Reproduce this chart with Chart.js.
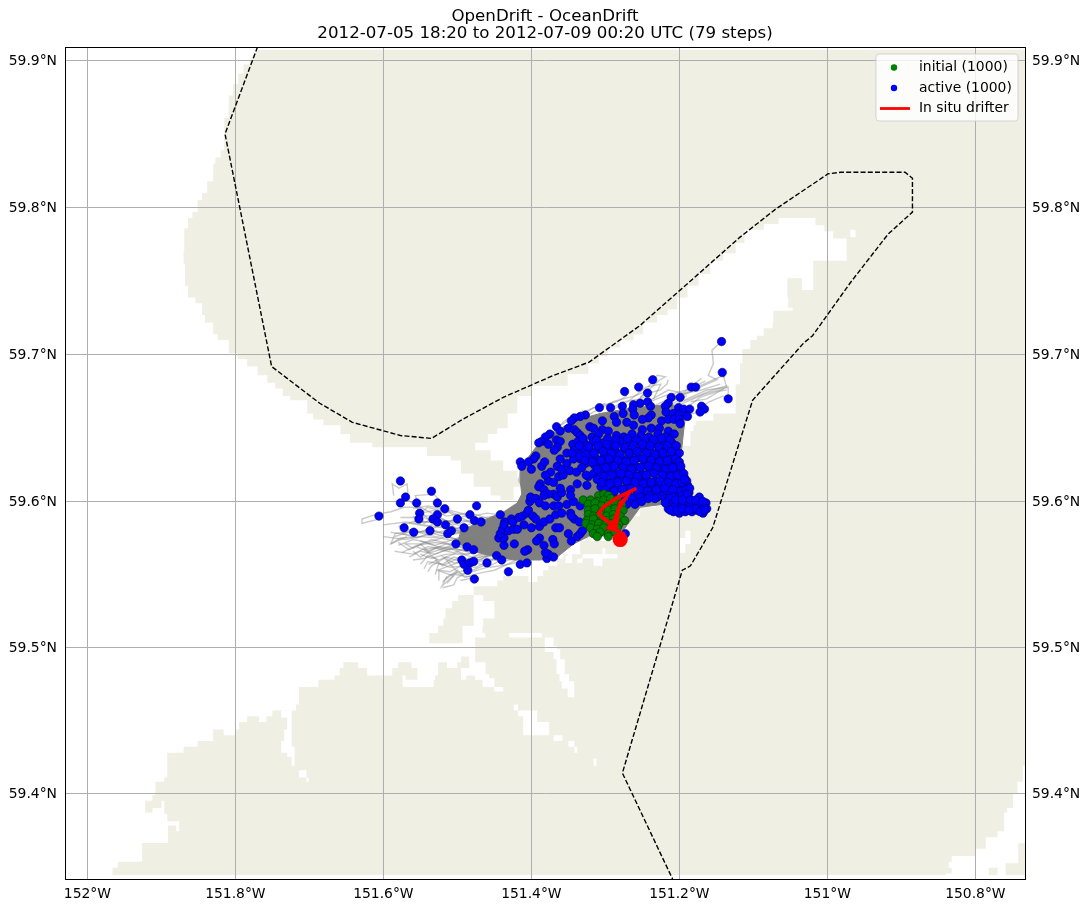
<!DOCTYPE html>
<html>
<head>
<meta charset="utf-8">
<title>OpenDrift - OceanDrift</title>
<script src="https://cdn.jsdelivr.net/npm/chart.js@4/dist/chart.umd.min.js"></script>
<style>
html,body{margin:0;padding:0;background:#fff}
canvas{display:block}
</style>
</head>
<body>
<canvas id="map" width="1090" height="910"></canvas>
<script>
const titleLines=["OpenDrift - OceanDrift","2012-07-05 18:20 to 2012-07-09 00:20 UTC (79 steps)"]

const lonTicks=[-152,-151.8,-151.6,-151.4,-151.2,-151,-150.8]
const lonLabels=["152°W","151.8°W","151.6°W","151.4°W","151.2°W","151°W","150.8°W"]
const latTicks=[59.4,59.5,59.6,59.7,59.8,59.9]
const latLabels=["59.4°N","59.5°N","59.6°N","59.7°N","59.8°N","59.9°N"]

/* all positions below are [lon,lat] */

const landCoast=[
[-151.770,59.907],[-150.732,59.907],[-150.732,59.419],[-150.736,59.419],[-150.736,59.408],[-150.742,59.408],[-150.743,59.400],[-150.749,59.395],[-150.749,59.390],[-150.754,59.390],[-150.757,59.387],[-150.761,59.382],[-150.761,59.374],[-150.770,59.374],[-150.770,59.370],[-150.782,59.370],[-150.786,59.366],[-150.786,59.362],[-150.796,59.362],[-150.800,59.357],[-150.832,59.357],[-150.832,59.353],[-150.836,59.353],[-150.836,59.349],[-150.832,59.349],[-150.832,59.345],[-150.840,59.345],[-150.840,59.344],
[-151.966,59.344],[-151.966,59.349],[-151.959,59.349],[-151.959,59.353],[-151.930,59.353],[-151.926,59.357],[-151.926,59.366],[-151.891,59.366],[-151.891,59.378],[-151.880,59.378],[-151.880,59.374],[-151.876,59.374],[-151.876,59.381],[-151.892,59.381],[-151.892,59.386],[-151.896,59.387],[-151.896,59.395],[-151.900,59.395],[-151.900,59.390],[-151.912,59.390],[-151.912,59.387],[-151.922,59.387],[-151.922,59.395],[-151.912,59.395],[-151.912,59.399],[-151.908,59.399],[-151.908,59.408],[-151.896,59.408],[-151.896,59.411],[-151.892,59.411],[-151.892,59.428],[-151.870,59.428],[-151.870,59.432],[-151.851,59.432],[-151.851,59.436],[-151.832,59.436],[-151.830,59.440],[-151.830,59.444],[-151.816,59.444],[-151.816,59.440],[-151.799,59.440],[-151.799,59.444],[-151.795,59.449],[-151.784,59.449],[-151.784,59.453],[-151.768,59.453],[-151.768,59.449],[-151.758,59.449],[-151.758,59.453],[-151.750,59.453],[-151.750,59.457],[-151.718,59.457],[-151.718,59.461],[-151.714,59.461],[-151.714,59.473],[-151.688,59.473],[-151.688,59.478],[-151.666,59.478],[-151.666,59.481],[-151.659,59.481],[-151.659,59.486],[-151.654,59.486],[-151.654,59.490],[-151.634,59.490],[-151.634,59.486],[-151.622,59.486],[-151.622,59.481],[-151.588,59.481],[-151.588,59.486],[-151.580,59.486],[-151.580,59.490],[-151.562,59.490],[-151.562,59.486],[-151.554,59.486],[-151.554,59.478],[-151.570,59.478],[-151.570,59.481],[-151.574,59.481],[-151.574,59.473],[-151.532,59.473],[-151.532,59.478],[-151.530,59.481],[-151.526,59.481],[-151.526,59.490],[-151.514,59.490],[-151.514,59.486],[-151.500,59.486],[-151.500,59.490],[-151.495,59.490],[-151.495,59.494],[-151.484,59.494],[-151.484,59.486],[-151.495,59.486],[-151.495,59.478],[-151.488,59.478],[-151.488,59.481],[-151.476,59.481],[-151.476,59.478],[-151.466,59.478],[-151.466,59.473],[-151.450,59.473],[-151.450,59.470],[-151.438,59.470],[-151.438,59.473],[-151.450,59.479],[-151.457,59.482],[-151.462,59.482],[-151.462,59.490],[-151.476,59.495],
[-151.476,59.507],[-151.462,59.507],[-151.462,59.510],[-151.466,59.510],[-151.466,59.515],[-151.465,59.520],[-151.450,59.520],[-151.450,59.532],[-151.465,59.536],[-151.478,59.536],[-151.478,59.515],[-151.493,59.515],[-151.493,59.503],[-151.538,59.503],[-151.538,59.510],[-151.526,59.510],[-151.526,59.515],[-151.519,59.515],[-151.519,59.520],[-151.516,59.527],[-151.507,59.532],[-151.499,59.536],[-151.478,59.536],[-151.478,59.542],[-151.465,59.542],[-151.453,59.539],[-151.453,59.542],[-151.446,59.542],[-151.446,59.546],[-151.438,59.546],[-151.438,59.549],[-151.404,59.549],[-151.404,59.545],[-151.392,59.545],[-151.392,59.549],[-151.384,59.549],[-151.384,59.553],[-151.377,59.553],[-151.377,59.556],[-151.365,59.561],[-151.357,59.564],[-151.334,59.573],[-151.327,59.577],
[-151.320,59.573],[-151.307,59.573],[-151.291,59.573],[-151.273,59.580],[-151.269,59.590],[-151.253,59.596],[-151.232,59.597],[-151.215,59.599],[-151.204,59.604],[-151.199,59.621],[-151.196,59.638],[-151.185,59.648],[-151.181,59.652],[-151.178,59.655],[-151.154,59.656],[-151.154,59.660],[-151.124,59.672],[-151.124,59.680],[-151.118,59.694],[-151.115,59.704],[-151.104,59.710],[-151.095,59.713],[-151.086,59.718],[-151.074,59.722],[-151.073,59.730],[-151.042,59.727],[-151.047,59.732],[-151.053,59.739],[-151.054,59.752],[-151.042,59.752],[-151.034,59.744],[-151.019,59.748],[-151.019,59.764],[-150.995,59.764],[-150.974,59.769],[-150.974,59.779],[-150.992,59.784],[-151.004,59.788],[-151.016,59.793],[-151.046,59.793],[-151.066,59.789],[-151.086,59.785],[-151.112,59.776],[-151.124,59.769],[-151.141,59.764],[-151.158,59.755],[-151.174,59.747],[-151.189,59.739],[-151.203,59.731],[-151.216,59.727],[-151.230,59.722],[-151.249,59.714],[-151.262,59.710],[-151.280,59.705],[-151.297,59.699],[-151.309,59.694],[-151.323,59.687],[-151.351,59.679],[-151.399,59.672],[-151.419,59.660],[-151.432,59.650],[-151.446,59.646],[-151.459,59.640],[-151.476,59.635],[-151.455,59.628],[-151.438,59.621],[-151.419,59.616],[-151.415,59.610],[-151.424,59.601],[-151.442,59.604],[-151.455,59.610],[-151.478,59.619],[-151.495,59.628],[-151.509,59.631],[-151.541,59.637],[-151.573,59.637],[-151.615,59.640],[-151.645,59.646],[-151.658,59.652],[-151.665,59.652],[-151.681,59.656],[-151.695,59.660],[-151.703,59.669],[-151.726,59.672],[-151.736,59.677],[-151.746,59.681],[-151.757,59.686],[-151.770,59.692],[-151.784,59.697],[-151.797,59.701],[-151.809,59.710],[-151.824,59.714],[-151.830,59.722],[-151.841,59.727],[-151.845,59.735],[-151.854,59.739],[-151.864,59.747],[-151.868,59.762],[-151.870,59.771],[-151.869,59.786],[-151.864,59.793],[-151.858,59.797],[-151.851,59.805],[-151.845,59.810],[-151.838,59.818],[-151.830,59.830],[-151.827,59.834],[-151.820,59.839],[-151.815,59.861],[-151.809,59.876],[-151.803,59.884],[-151.796,59.891],[-151.789,59.897],[-151.781,59.899]
]

const waterInlet=[[-151.738,59.457],[-151.724,59.457],[-151.724,59.432],[-151.720,59.432],[-151.720,59.419],[-151.724,59.419],[-151.724,59.425],[-151.730,59.425],[-151.730,59.428],[-151.738,59.428],[-151.738,59.436],[-151.734,59.437],[-151.734,59.444],[-151.730,59.449],[-151.730,59.452],[-151.735,59.452],[-151.738,59.456]]
const waterPond=[[-151.714,59.416],[-151.704,59.416],[-151.704,59.411],[-151.701,59.411],[-151.701,59.408],[-151.704,59.408],[-151.704,59.411],[-151.714,59.411]]
const waterChannel=[[-151.424,59.461],[-151.418,59.461],[-151.418,59.457],[-151.392,59.457],[-151.392,59.449],[-151.376,59.449],[-151.376,59.440],[-151.411,59.440],[-151.411,59.453],[-151.418,59.453],[-151.418,59.457],[-151.424,59.457]]
const waterSpotA=[[-151.370,59.440],[-151.358,59.440],[-151.358,59.436],[-151.370,59.436]]
const waterSpotB=[[-151.350,59.436],[-151.342,59.436],[-151.342,59.432],[-151.338,59.432],[-151.338,59.428],[-151.342,59.428],[-151.342,59.432],[-151.350,59.432]]
const waterBar=[[-151.430,59.510],[-151.386,59.510],[-151.386,59.507],[-151.430,59.507]]
const waterCreek=[[-151.382,59.507],[-151.370,59.507],[-151.370,59.501],[-151.365,59.499],[-151.361,59.492],[-151.355,59.482],[-151.349,59.477],[-151.342,59.466],[-151.350,59.466],[-151.351,59.472],[-151.359,59.477],[-151.362,59.482],[-151.366,59.492],[-151.370,59.497],[-151.382,59.501]]
const waterSpotC=[[-151.354,59.558],[-151.354,59.563],[-151.350,59.563],[-151.350,59.565],[-151.345,59.565],[-151.345,59.558]]
const waterLagoon=[[-151.338,59.558],[-151.338,59.561],[-151.331,59.561],[-151.331,59.564],[-151.304,59.564],[-151.304,59.568],[-151.300,59.568],[-151.300,59.564],[-151.284,59.564],[-151.284,59.561],[-151.304,59.561],[-151.304,59.556],[-151.316,59.556],[-151.316,59.561],[-151.331,59.561],[-151.331,59.558]]
const waterSpotD=[[-151.192,59.580],[-151.185,59.580],[-151.185,59.571],[-151.192,59.571],[-151.192,59.565],[-151.199,59.565],[-151.199,59.575],[-151.192,59.575]]
const waterSpotE=[[-151.316,59.424],[-151.312,59.424],[-151.312,59.419],[-151.316,59.419]]
const waterSpotF=[[-150.969,59.785],[-150.962,59.785],[-150.962,59.780],[-150.969,59.780]]
const waterShapes=[waterInlet,waterPond,waterChannel,waterSpotA,waterSpotB,waterBar,waterCreek,waterSpotC,waterLagoon,waterSpotD,waterSpotE,waterSpotF]

const shoalA=[[-150.782,59.349],[-150.770,59.349],[-150.770,59.344],[-150.782,59.344]]
const shoalB=[[-150.759,59.344],[-150.759,59.352],[-150.742,59.352],[-150.742,59.366],[-150.732,59.366],[-150.732,59.344]]

const boundary=[
[-151.770,59.909],[-151.814,59.850],[-151.751,59.692],[-151.686,59.667],[-151.642,59.654],[-151.577,59.645],[-151.535,59.643],[-151.493,59.656],[-151.438,59.671],[-151.370,59.686],[-151.322,59.695],[-151.253,59.720],[-151.199,59.744],[-151.181,59.752],[-151.118,59.780],[-151.070,59.799],[-150.999,59.823],[-150.982,59.824],[-150.895,59.824],[-150.885,59.820],[-150.885,59.797],[-150.918,59.782],[-150.969,59.749],[-151.020,59.713],[-151.032,59.708],[-151.101,59.669],[-151.155,59.582],[-151.185,59.556],[-151.196,59.553],[-151.277,59.414],[-151.209,59.341]
]

/* the solid grey mass where the tracks pile up */
const trackMass=[
[-151.323,59.576],[-151.343,59.571],[-151.365,59.562],[-151.388,59.560],[-151.424,59.560],[-151.455,59.563],[-151.480,59.566],[-151.500,59.572],[-151.495,59.580],[-151.470,59.586],[-151.437,59.593],[-151.419,59.599],[-151.413,59.605],[-151.415,59.614],[-151.415,59.621],[-151.406,59.629],[-151.392,59.638],[-151.370,59.647],[-151.343,59.655],[-151.307,59.660],[-151.262,59.664],[-151.217,59.666],[-151.190,59.664],[-151.194,59.649],[-151.199,59.626],[-151.192,59.610],[-151.208,59.599],[-151.253,59.596],[-151.276,59.580],[-151.298,59.576]
]

const trackA=[[-151.460,59.578],[-151.496,59.580],[-151.523,59.589],[-151.550,59.596],[-151.572,59.596],[-151.590,59.593],[-151.611,59.591],[-151.629,59.588],[-151.629,59.585],[-151.606,59.588]]
const trackB=[[-151.460,59.576],[-151.491,59.577],[-151.519,59.583],[-151.545,59.589],[-151.557,59.604],[-151.532,59.605],[-151.524,59.601]]
const trackC=[[-151.460,59.574],[-151.500,59.574],[-151.532,59.578],[-151.559,59.580],[-151.584,59.578],[-151.590,59.571],[-151.568,59.576]]
const trackD=[[-151.455,59.569],[-151.487,59.566],[-151.523,59.569],[-151.545,59.567],[-151.527,59.560],[-151.539,59.557]]
const trackE=[[-151.442,59.565],[-151.478,59.559],[-151.505,59.558],[-151.519,59.562],[-151.500,59.552],[-151.521,59.542],[-151.514,59.549]]
const trackF=[[-151.433,59.562],[-151.460,59.555],[-151.487,59.551],[-151.503,59.550],[-151.476,59.548],[-151.496,59.546]]
const trackG=[[-151.464,59.580],[-151.500,59.584],[-151.537,59.587],[-151.566,59.601],[-151.568,59.612],[-151.579,59.609],[-151.588,59.612],[-151.586,59.604]]
const trackH=[[-151.447,59.567],[-151.482,59.565],[-151.510,59.569],[-151.537,59.565],[-151.550,59.571],[-151.572,59.571]]
const trackI=[[-151.451,59.571],[-151.487,59.571],[-151.523,59.575],[-151.550,59.576],[-151.577,59.575],[-151.590,59.571]]
const trackJ=[[-151.469,59.583],[-151.496,59.589],[-151.514,59.593],[-151.541,59.596],[-151.554,59.589],[-151.577,59.589]]
const trackK=[[-151.433,59.565],[-151.469,59.562],[-151.500,59.558],[-151.527,59.553],[-151.505,59.549],[-151.514,59.544]]
const trackL=[[-151.442,59.576],[-151.478,59.580],[-151.505,59.587],[-151.532,59.586],[-151.559,59.586]]
const trackM=[[-151.410,59.608],[-151.417,59.614],[-151.415,59.621],[-151.404,59.630],[-151.392,59.638]]
const trackN=[[-151.253,59.671],[-151.226,59.683],[-151.219,59.685],[-151.230,59.686],[-151.242,59.678]]
const trackO=[[-151.208,59.669],[-151.172,59.678],[-151.149,59.683],[-151.161,59.686],[-151.154,59.694],[-151.156,59.703],[-151.143,59.709]]
const trackP=[[-151.194,59.669],[-151.163,59.676],[-151.136,59.678],[-151.142,59.688]]
const trackQ=[[-151.199,59.666],[-151.167,59.673],[-151.134,59.678],[-151.134,59.670]]
const trackR=[[-151.217,59.666],[-151.185,59.676],[-151.145,59.685],[-151.138,59.685]]
const trackS=[[-151.262,59.666],[-151.248,59.673],[-151.226,59.676],[-151.217,59.680],[-151.215,59.683]]
const trackT=[[-151.298,59.662],[-151.275,59.668],[-151.253,59.670],[-151.239,59.673]]
const trackU=[[-151.185,59.668],[-151.163,59.670],[-151.140,59.677]]
const trackV=[[-151.343,59.655],[-151.316,59.664],[-151.285,59.668],[-151.271,59.672]]
const trackW=[[-151.190,59.664],[-151.172,59.671],[-151.149,59.675],[-151.136,59.676]]

const fanA=[[-151.42,59.592],[-151.45,59.590],[-151.475,59.588],[-151.49,59.592],[-151.515,59.590],[-151.53,59.594],[-151.55,59.592]]
const fanB=[[-151.42,59.588],[-151.45,59.586],[-151.47,59.589],[-151.50,59.585],[-151.52,59.587],[-151.54,59.583],[-151.565,59.585]]
const fanC=[[-151.43,59.585],[-151.46,59.582],[-151.48,59.585],[-151.505,59.581],[-151.525,59.583],[-151.55,59.579],[-151.57,59.581]]
const fanD=[[-151.43,59.582],[-151.46,59.579],[-151.485,59.581],[-151.51,59.577],[-151.53,59.580],[-151.555,59.575],[-151.575,59.578]]
const fanE=[[-151.43,59.579],[-151.465,59.577],[-151.49,59.573],[-151.515,59.576],[-151.54,59.572],[-151.56,59.574],[-151.58,59.570]]
const fanF=[[-151.43,59.576],[-151.46,59.574],[-151.485,59.576],[-151.51,59.571],[-151.535,59.574],[-151.56,59.568],[-151.57,59.571]]
const fanG=[[-151.43,59.573],[-151.46,59.571],[-151.49,59.568],[-151.515,59.571],[-151.54,59.566],[-151.555,59.569]]
const fanH=[[-151.43,59.570],[-151.455,59.568],[-151.48,59.570],[-151.505,59.565],[-151.53,59.568],[-151.55,59.562],[-151.56,59.566]]
const fanI=[[-151.42,59.567],[-151.45,59.565],[-151.48,59.562],[-151.50,59.565],[-151.525,59.560],[-151.54,59.563],[-151.55,59.557]]
const fanJ=[[-151.41,59.565],[-151.44,59.562],[-151.47,59.564],[-151.495,59.559],[-151.515,59.562],[-151.535,59.556],[-151.54,59.552]]
const fanK=[[-151.41,59.562],[-151.44,59.559],[-151.46,59.561],[-151.485,59.556],[-151.51,59.555],[-151.525,59.558],[-151.53,59.550]]
const fanL=[[-151.40,59.561],[-151.43,59.557],[-151.455,59.555],[-151.475,59.558],[-151.495,59.552],[-151.51,59.550],[-151.52,59.545]]
const fanM=[[-151.42,59.560],[-151.45,59.553],[-151.47,59.551],[-151.49,59.548],[-151.50,59.553],[-151.515,59.547]]
const fanN=[[-151.43,59.580],[-151.47,59.583],[-151.50,59.578],[-151.53,59.576],[-151.56,59.580],[-151.585,59.576]]
const fanO=[[-151.43,59.590],[-151.46,59.592],[-151.48,59.590],[-151.51,59.594],[-151.52,59.591],[-151.545,59.590]]
const fanP=[[-151.44,59.586],[-151.47,59.584],[-151.50,59.588],[-151.525,59.585],[-151.555,59.587],[-151.58,59.583]]
const fanQ=[[-151.42,59.574],[-151.47,59.575],[-151.50,59.570],[-151.53,59.572],[-151.555,59.570],[-151.575,59.565]]
const fanR=[[-151.42,59.571],[-151.46,59.566],[-151.49,59.570],[-151.52,59.566],[-151.545,59.561],[-151.56,59.560]]
const fanS=[[-151.42,59.577],[-151.47,59.572],[-151.50,59.575],[-151.53,59.570],[-151.55,59.573]]
const fanT=[[-151.44,59.568],[-151.47,59.560],[-151.50,59.561],[-151.52,59.556],[-151.53,59.560]]
const fanU=[[-151.44,59.590],[-151.47,59.586],[-151.49,59.590],[-151.51,59.586],[-151.53,59.590],[-151.545,59.585],[-151.56,59.590]]
const fanV=[[-151.44,59.583],[-151.47,59.580],[-151.49,59.583],[-151.52,59.578],[-151.54,59.581],[-151.565,59.577],[-151.59,59.579]]
const fanW=[[-151.44,59.577],[-151.47,59.569],[-151.495,59.572],[-151.52,59.568],[-151.545,59.572],[-151.565,59.567],[-151.58,59.572]]
const fanX=[[-151.44,59.574],[-151.465,59.566],[-151.49,59.564],[-151.51,59.568],[-151.53,59.564],[-151.55,59.566],[-151.565,59.562]]
const fanY=[[-151.44,59.571],[-151.46,59.563],[-151.485,59.560],[-151.505,59.562],[-151.52,59.557],[-151.54,59.559],[-151.545,59.554]]
const fanZ=[[-151.43,59.568],[-151.455,59.560],[-151.475,59.555],[-151.495,59.556],[-151.51,59.552],[-151.525,59.553],[-151.525,59.546]]
const fanAA=[[-151.44,59.565],[-151.46,59.557],[-151.48,59.553],[-151.50,59.548],[-151.505,59.543],[-151.52,59.541]]
const fanAB=[[-151.45,59.587],[-151.475,59.591],[-151.50,59.591],[-151.52,59.595],[-151.54,59.597],[-151.56,59.595]]
const fanAC=[[-151.45,59.575],[-151.48,59.578],[-151.51,59.581],[-151.54,59.577],[-151.57,59.574],[-151.60,59.576]]
const fanAD=[[-151.45,59.572],[-151.48,59.574],[-151.51,59.567],[-151.54,59.569],[-151.56,59.564],[-151.585,59.566]]
const fanAE=[[-151.46,59.582],[-151.49,59.579],[-151.52,59.582],[-151.545,59.584],[-151.57,59.586],[-151.60,59.584]]
const fanAF=[[-151.46,59.569],[-151.485,59.564],[-151.515,59.564],[-151.535,59.561],[-151.55,59.564]]

const northA=[[-151.40,59.625],[-151.39,59.635],[-151.375,59.645],[-151.355,59.655],[-151.33,59.662]]
const northB=[[-151.405,59.615],[-151.40,59.628],[-151.385,59.642],[-151.36,59.652],[-151.335,59.660],[-151.30,59.667]]
const northC=[[-151.35,59.650],[-151.32,59.660],[-151.29,59.668],[-151.26,59.672],[-151.24,59.676]]
const northD=[[-151.30,59.660],[-151.27,59.668],[-151.245,59.678],[-151.225,59.680],[-151.235,59.670]]
const northE=[[-151.26,59.664],[-151.22,59.672],[-151.19,59.676],[-151.165,59.682]]
const northF=[[-151.24,59.664],[-151.20,59.673],[-151.17,59.676],[-151.145,59.680]]
const northG=[[-151.22,59.664],[-151.185,59.670],[-151.155,59.676],[-151.135,59.679]]
const northH=[[-151.25,59.666],[-151.215,59.676],[-151.195,59.674],[-151.17,59.684]]
const northI=[[-151.21,59.662],[-151.18,59.660],[-151.16,59.668],[-151.14,59.672]]
const northJ=[[-151.23,59.660],[-151.205,59.668],[-151.19,59.672]]

const driftTracks=[trackA,trackB,trackC,trackD,trackE,trackF,trackG,trackH,trackI,trackJ,trackK,trackL,trackM,trackN,trackO,trackP,trackQ,trackR,trackS,trackT,trackU,trackV,trackW,
fanA,fanB,fanC,fanD,fanE,fanF,fanG,fanH,fanI,fanJ,fanK,fanL,fanM,fanN,fanO,fanP,fanQ,fanR,fanS,fanT,fanU,fanV,fanW,fanX,fanY,fanZ,fanAA,fanAB,fanAC,fanAD,fanAE,fanAF,
northA,northB,northC,northD,northE,northF,northG,northH,northI,northJ]

const activeWest=[
[-151.577,59.614],[-151.535,59.607],[-151.570,59.603],[-151.577,59.599],[-151.555,59.599],[-151.527,59.599],[-151.474,59.597],[-151.517,59.595],[-151.551,59.592],[-151.606,59.590],
[-151.552,59.588],[-151.527,59.591],[-151.533,59.588],[-151.527,59.586],[-151.500,59.588],[-151.483,59.591],[-151.477,59.587],[-151.468,59.586],[-151.516,59.584],[-151.572,59.582],
[-151.559,59.579],[-151.537,59.580],[-151.491,59.582],[-151.508,59.580],[-151.513,59.578],[-151.502,59.571],[-151.487,59.569],[-151.478,59.567],[-151.442,59.591],[-151.494,59.560],
[-151.491,59.557],[-151.483,59.558],[-151.478,59.559],[-151.486,59.553],[-151.477,59.547],[-151.460,59.558],[-151.447,59.563],[-151.440,59.560],[-151.431,59.552],[-151.415,59.557],
[-151.406,59.558],[-151.379,59.561],[-151.370,59.562],[-151.377,59.564],[-151.381,59.565],[-151.405,59.567],[-151.409,59.566],[-151.423,59.571],[-151.437,59.570],[-151.444,59.575],
[-151.437,59.575],[-151.442,59.578],[-151.439,59.581],[-151.436,59.586],[-151.437,59.584],[-151.431,59.580],[-151.424,59.581],[-151.419,59.581],[-151.410,59.584],[-151.427,59.588],
[-151.425,59.586],[-151.417,59.589],[-151.412,59.590],[-151.406,59.592],[-151.404,59.594],[-151.398,59.590],[-151.394,59.588],[-151.400,59.582],[-151.389,59.583],[-151.383,59.586],
[-151.375,59.588],[-151.367,59.591],[-151.359,59.592],[-151.347,59.592],[-151.342,59.588],[-151.335,59.586],[-151.367,59.582],[-151.362,59.582],[-151.350,59.578],[-151.346,59.573],
[-151.338,59.576],[-151.334,59.578],[-151.331,59.580],[-151.389,59.575],[-151.393,59.573],[-151.383,59.570],[-151.371,59.574],[-151.369,59.571],[-151.402,59.600],[-151.401,59.603],
[-151.394,59.602],[-151.389,59.599],[-151.381,59.597],[-151.370,59.597],[-151.363,59.597],[-151.352,59.598],[-151.343,59.600],[-151.334,59.597],[-151.346,59.590]
]

const activeMiddle=[
[-151.388,59.612],[-151.390,59.610],[-151.383,59.608],[-151.377,59.614],[-151.370,59.613],[-151.363,59.617],[-151.357,59.618],[-151.374,59.620],[-151.381,59.618],[-151.365,59.624],
[-151.359,59.622],[-151.352,59.626],[-151.343,59.629],[-151.334,59.629],[-151.348,59.621],[-151.339,59.620],[-151.327,59.626],[-151.321,59.627],[-151.370,59.605],[-151.365,59.603],
[-151.359,59.606],[-151.347,59.608],[-151.347,59.604],[-151.361,59.609],[-151.377,59.605],[-151.383,59.604],[-151.338,59.612],[-151.325,59.611],[-151.323,59.617],[-151.316,59.619]
]

const activeNorth=[
[-151.143,59.709],[-151.142,59.688],[-151.134,59.670],[-151.236,59.683],[-151.255,59.678],[-151.274,59.675],[-151.243,59.674],[-151.184,59.678],[-151.178,59.678],[-151.211,59.671],
[-151.199,59.671],[-151.253,59.667],[-151.243,59.668],[-151.239,59.665],[-151.277,59.665],[-151.293,59.664],[-151.308,59.664],[-151.262,59.666],[-151.263,59.663],[-151.215,59.667],
[-151.219,59.665],[-151.201,59.664],[-151.194,59.663],[-151.186,59.663],[-151.170,59.665],[-151.166,59.663],[-151.172,59.661],[-151.189,59.658],[-151.218,59.661],[-151.208,59.660],
[-151.200,59.659],[-151.224,59.655],[-151.215,59.656],[-151.207,59.656],[-151.200,59.656],[-151.238,59.659],[-151.242,59.657],[-151.250,59.656],[-151.261,59.659],[-151.276,59.660],
[-151.288,59.658],[-151.285,59.654],[-151.304,59.655],[-151.327,59.659],[-151.334,59.658],[-151.342,59.657],[-151.346,59.655],[-151.366,59.651],[-151.361,59.648],[-151.350,59.650],
[-151.342,59.649],[-151.338,59.647],[-151.321,59.651],[-151.316,59.650],[-151.304,59.649],[-151.296,59.648],[-151.285,59.645],[-151.271,59.654],[-151.262,59.652],[-151.250,59.649],
[-151.238,59.650],[-151.227,59.650],[-151.215,59.648],[-151.207,59.646],[-151.199,59.653],[-151.375,59.646],[-151.381,59.644],[-151.386,59.641],[-151.390,59.640],[-151.377,59.639],
[-151.366,59.642],[-151.361,59.641],[-151.365,59.637],[-151.369,59.635],[-151.394,59.631],[-151.397,59.629],[-151.404,59.627],[-151.415,59.627],[-151.413,59.624],[-151.386,59.624],
[-151.400,59.622],[-151.382,59.627],[-151.361,59.629],[-151.352,59.633],[-151.344,59.639]
]

const activeCore=[
[-151.334,59.645],[-151.318,59.644],[-151.309,59.646],[-151.275,59.644],[-151.264,59.646],[-151.252,59.645],[-151.241,59.644],[-151.229,59.646],[-151.219,59.644],
[-151.337,59.641],[-151.327,59.639],[-151.316,59.641],[-151.303,59.640],[-151.292,59.639],[-151.280,59.641],[-151.268,59.640],[-151.256,59.641],[-151.245,59.639],[-151.234,59.640],[-151.222,59.641],[-151.210,59.640],
[-151.342,59.635],[-151.331,59.636],[-151.320,59.634],[-151.309,59.636],[-151.297,59.635],[-151.286,59.634],[-151.274,59.636],[-151.262,59.635],[-151.250,59.636],[-151.239,59.634],[-151.227,59.635],[-151.216,59.636],[-151.206,59.634],
[-151.335,59.631],[-151.322,59.630],[-151.312,59.629],[-151.301,59.631],[-151.290,59.630],[-151.278,59.629],[-151.267,59.631],[-151.255,59.630],[-151.244,59.629],[-151.232,59.631],[-151.221,59.630],[-151.210,59.631],[-151.204,59.629],
[-151.315,59.625],[-151.304,59.626],[-151.293,59.624],[-151.281,59.625],[-151.270,59.626],[-151.259,59.624],[-151.247,59.625],[-151.236,59.626],[-151.225,59.624],[-151.214,59.625],[-151.204,59.626],
[-151.308,59.620],[-151.297,59.621],[-151.285,59.619],[-151.274,59.620],[-151.263,59.621],[-151.251,59.619],[-151.240,59.620],[-151.229,59.621],[-151.218,59.619],[-151.207,59.620],[-151.198,59.621],
[-151.311,59.615],[-151.300,59.614],[-151.289,59.616],[-151.277,59.615],[-151.266,59.614],[-151.255,59.616],[-151.244,59.615],[-151.232,59.614],[-151.221,59.616],[-151.210,59.615],[-151.200,59.614],[-151.193,59.616],
[-151.306,59.610],[-151.294,59.609],[-151.283,59.611],[-151.271,59.610],[-151.260,59.609],[-151.248,59.611],[-151.237,59.610],[-151.226,59.609],[-151.214,59.611],[-151.203,59.610],[-151.194,59.609],[-151.189,59.611],
[-151.300,59.605],[-151.289,59.606],[-151.270,59.605],[-151.258,59.604],[-151.247,59.606],[-151.236,59.605],[-151.224,59.604],[-151.213,59.606],[-151.202,59.605],[-151.193,59.604],[-151.187,59.606]
]

const activeCoreB=[
[-151.330,59.643],[-151.312,59.642],[-151.297,59.643],[-151.286,59.642],[-151.270,59.643],[-151.258,59.642],[-151.247,59.643],[-151.235,59.642],[-151.224,59.643],[-151.213,59.642],
[-151.335,59.638],[-151.322,59.637],[-151.310,59.638],[-151.298,59.639],[-151.286,59.638],[-151.274,59.637],[-151.262,59.638],[-151.250,59.639],[-151.239,59.638],[-151.228,59.637],[-151.216,59.638],[-151.204,59.638],
[-151.345,59.633],[-151.326,59.632],[-151.315,59.633],[-151.303,59.634],[-151.292,59.633],[-151.280,59.632],[-151.268,59.633],[-151.257,59.634],[-151.245,59.633],[-151.233,59.632],[-151.222,59.633],[-151.211,59.634],[-151.200,59.633],
[-151.328,59.628],[-151.317,59.627],[-151.306,59.628],[-151.295,59.629],[-151.283,59.628],[-151.272,59.627],[-151.261,59.628],[-151.249,59.629],[-151.238,59.628],[-151.227,59.627],[-151.216,59.628],[-151.205,59.629],[-151.200,59.627],
[-151.332,59.623],[-151.311,59.622],[-151.299,59.623],[-151.288,59.624],[-151.276,59.623],[-151.265,59.622],[-151.253,59.623],[-151.242,59.624],[-151.231,59.623],[-151.219,59.622],[-151.209,59.623],[-151.198,59.624],
[-151.326,59.618],[-151.302,59.617],[-151.291,59.618],[-151.279,59.619],[-151.268,59.618],[-151.257,59.617],[-151.245,59.618],[-151.234,59.619],[-151.223,59.618],[-151.212,59.617],[-151.202,59.618],[-151.194,59.619],
[-151.305,59.613],[-151.294,59.612],[-151.283,59.613],[-151.271,59.614],[-151.260,59.613],[-151.249,59.612],[-151.238,59.613],[-151.226,59.614],[-151.215,59.613],[-151.205,59.612],[-151.196,59.613],[-151.190,59.614],
[-151.300,59.608],[-151.288,59.607],[-151.277,59.608],[-151.265,59.609],[-151.254,59.608],[-151.243,59.607],[-151.231,59.608],[-151.220,59.609],[-151.209,59.608],[-151.198,59.607],[-151.191,59.608],[-151.186,59.609],
[-151.276,59.603],[-151.264,59.602],[-151.253,59.603],[-151.241,59.604],[-151.230,59.603],[-151.219,59.602],[-151.207,59.603],[-151.196,59.604],[-151.188,59.603]
]

const activeEast=[
[-151.173,59.603],[-151.164,59.599],[-151.163,59.595],[-151.168,59.592],[-151.181,59.597],[-151.190,59.605],[-151.193,59.615],[-151.213,59.602],[-151.208,59.599],[-151.200,59.599],
[-151.190,59.600],[-151.184,59.599],[-151.176,59.597],[-151.170,59.597],[-151.215,59.595],[-151.208,59.593],[-151.200,59.592],[-151.192,59.593],[-151.183,59.593],[-151.176,59.594],
[-151.219,59.599],[-151.233,59.602],[-151.242,59.602],[-151.251,59.600],[-151.260,59.598],[-151.271,59.598],[-151.273,59.578],
[-151.205,59.597],[-151.197,59.596],[-151.186,59.596],[-151.178,59.595],[-151.167,59.596],[-151.212,59.594],[-151.203,59.594],[-151.196,59.595],[-151.187,59.594],[-151.172,59.593],[-151.166,59.594],
[-151.205,59.601],[-151.196,59.601],[-151.185,59.601],[-151.178,59.601],[-151.168,59.600]
]

const initialPoints=[
[-151.330,59.601],
[-151.309,59.604],[-151.302,59.605],[-151.296,59.604],
[-151.320,59.601],[-151.311,59.600],[-151.302,59.601],[-151.293,59.602],[-151.284,59.601],
[-151.323,59.598],[-151.314,59.599],[-151.305,59.597],[-151.296,59.598],[-151.287,59.599],[-151.278,59.598],
[-151.323,59.594],[-151.314,59.595],[-151.305,59.593],[-151.296,59.594],[-151.287,59.595],[-151.276,59.594],
[-151.323,59.591],[-151.316,59.590],[-151.307,59.591],[-151.298,59.590],[-151.289,59.591],[-151.280,59.590],
[-151.325,59.587],[-151.316,59.588],[-151.307,59.586],[-151.298,59.587],[-151.289,59.588],[-151.274,59.587],
[-151.326,59.585],[-151.318,59.584],[-151.309,59.585],[-151.300,59.584],[-151.291,59.585],[-151.282,59.584],
[-151.320,59.582],[-151.311,59.581],[-151.302,59.582],[-151.293,59.581],[-151.284,59.582],
[-151.316,59.578],[-151.307,59.579],[-151.296,59.578],[-151.287,59.579],
[-151.311,59.576],[-151.296,59.576]
]

const drifterTrack=[
[-151.280,59.574],[-151.276,59.578],[-151.284,59.580],[-151.296,59.582],[-151.289,59.586],[-151.284,59.592],[-151.280,59.599],[-151.273,59.602],[-151.282,59.595],[-151.286,59.582],[-151.296,59.586],[-151.304,59.589],[-151.309,59.592],[-151.303,59.596],[-151.286,59.602],[-151.270,59.606],[-151.258,59.609]
]

const activePoints=[...activeWest,...activeMiddle,...activeNorth,...activeCore,...activeCoreB,...activeEast]

function toXY(list){
return list.map(p=>({x:p[0],y:p[1]}))
}

// OpenDrift draws on a Mercator map, the latitude spacing is not quite even
function mercator(lat){
return Math.log(Math.tan(Math.PI/4+lat*Math.PI/360))
}

class MercatorScale extends Chart.LinearScale{
getPixelForValue(v){
let lo=mercator(this.min),hi=mercator(this.max)
return this.getPixelForDecimal((mercator(v)-lo)/(hi-lo))
}
}
MercatorScale.id="mercator"
MercatorScale.defaults=Chart.LinearScale.defaults
Chart.register(MercatorScale)

const tickFont={family:"'DejaVu Sans'",size:13.9}

// grid goes over the land but under everything else
const gridOverLand={
id:"gridOverLand",
afterDatasetDraw(chart,args){
if(chart.data.datasets[args.index].gridAfter){
chart.scales.x.drawGrid(chart.chartArea)
chart.scales.y.drawGrid(chart.chartArea)
}
}
}

const frameAndLegend={
id:"frameAndLegend",
afterDraw(chart){
let c=chart.ctx,a=chart.chartArea
let frameTop=Math.round(a.top)
c.save()
c.strokeStyle="#000"
c.lineWidth=1
c.strokeRect(a.left-0.5,frameTop+0.5,a.right-a.left+1,a.bottom-frameTop)

let left=a.right-149,top=frameTop+7,w=142,h=67
c.beginPath()
c.roundRect(left,top,w,h,3)
c.fillStyle="rgba(255,255,255,0.8)"
c.fill()
c.strokeStyle="rgba(204,204,204,0.8)"
c.lineWidth=1
c.stroke()

c.font="13.9px 'DejaVu Sans'"
c.textBaseline="middle"
c.textAlign="left"
c.fillStyle="#000"
let ds=chart.data.datasets
let rows=[ds.find(d=>d.legendRow==0),ds.find(d=>d.legendRow==1),ds.find(d=>d.legendRow==2)]
rows.forEach((d,i)=>{
let y=top+13.5+i*20.5
if(i<2){
c.beginPath()
c.arc(left+18,y,3.2,0,Math.PI*2)
c.fillStyle=d.backgroundColor
c.fill()
}else{
c.beginPath()
c.moveTo(left+4,y)
c.lineTo(left+34,y)
c.strokeStyle=d.borderColor
c.lineWidth=2.8
c.stroke()
}
c.fillStyle="#000"
c.fillText(d.label,left+43,y)
})
c.restore()
}
}

const datasets=[]

function polygon(list,color,order,extra){
datasets.push(Object.assign({
label:"",
data:toXY(list),
showLine:true,
stepped:true,
fill:"shape",
backgroundColor:color,
borderWidth:0,
pointRadius:0,
order:order
},extra||{}))
}

polygon(landCoast,"#efefe4",100)
waterShapes.forEach(w=>polygon(w,"#ffffff",90))
polygon(shoalA,"#efefe4",80)
polygon(shoalB,"#efefe4",80,{gridAfter:true})

datasets.push({
label:"",
data:toXY(boundary),
showLine:true,
borderColor:"#000",
borderWidth:1.4,
borderDash:[5,2.2],
pointRadius:0,
order:70
})

datasets.push({
label:"",
data:toXY(trackMass),
showLine:true,
fill:"shape",
backgroundColor:"#808080",
borderColor:"#808080",
borderWidth:1,
pointRadius:0,
order:61
})

driftTracks.forEach(t=>{
datasets.push({
label:"",
data:toXY(t),
showLine:true,
borderColor:"rgba(128,128,128,0.42)",
borderWidth:1.4,
pointRadius:0,
order:60
})
})

datasets.push({
label:"active (1000)",
legendRow:1,
data:toXY(activePoints),
showLine:false,
backgroundColor:"#0000ff",
borderColor:"#00005e",
borderWidth:0.6,
pointRadius:4.2,
order:50
})

datasets.push({
label:"initial (1000)",
legendRow:0,
data:toXY(initialPoints),
showLine:false,
backgroundColor:"#008000",
borderColor:"#003300",
borderWidth:0.6,
pointRadius:4.2,
order:40
})

datasets.push({
label:"In situ drifter",
legendRow:2,
data:toXY(drifterTrack),
showLine:true,
borderColor:"#ff0000",
borderWidth:3.6,
backgroundColor:"#ff0000",
pointBorderWidth:0,
pointRadius:ctx=>ctx.dataIndex==0?7.6:0,
order:30
})

function sideAxis(pos,width,pad){
return {
type:"mercator",
position:pos,
min:59.3412,
max:59.9088,
grid:{display:pos=="left",drawTicks:false,color:"#aeaeae",lineWidth:1},
border:{display:false},
afterBuildTicks(s){s.ticks=latTicks.map(v=>({value:v}))},
afterFit(s){s.width=width},
ticks:{
font:tickFont,
color:"#000",
padding:pad,
labelOffset:1,
callback:(v,i)=>latLabels[i]
}
}
}

new Chart(document.getElementById("map"),{
type:"scatter",
data:{datasets:datasets},
options:{
responsive:false,
animation:false,
events:[],
layout:{padding:0},
plugins:{
legend:{display:false},
tooltip:{enabled:false},
title:{
display:true,
text:titleLines,
color:"#000",
font:{family:"'DejaVu Sans'",size:16.67,weight:"normal",lineHeight:1},
padding:{top:8.5,bottom:5.3}
}
},
scales:{
x:{
type:"linear",
min:-152.0289,
max:-150.7329,
grid:{drawTicks:false,color:"#aeaeae",lineWidth:1},
border:{display:false},
afterBuildTicks(s){s.ticks=lonTicks.map(v=>({value:v}))},
afterFit(s){s.height=31},
ticks:{
font:tickFont,
color:"#000",
padding:7,
maxRotation:0,
autoSkip:false,
callback:(v,i)=>lonLabels[i]
}
},
y:sideAxis("left",66,9),
yRight:sideAxis("right",65,7)
}
},
plugins:[gridOverLand,frameAndLegend]
})
</script>
</body>
</html>
